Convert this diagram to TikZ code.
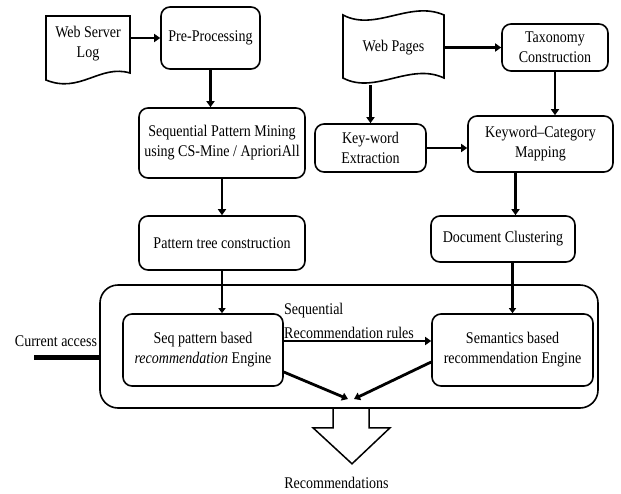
\documentclass[tikz,border=0pt]{standalone}
\usepackage{fontspec}
\setmainfont{Liberation Serif}[FakeStretch=0.86]
\usepackage{tikz}
\usetikzlibrary{shapes,arrows,arrows.meta,positioning}
\tikzset{box/.style={draw,line width=1.6pt,rounded corners=9pt,align=center,inner sep=2pt}}
\tikzset{flow/.style={draw,line width=2.8pt,-{Triangle[length=6pt,width=8pt]}}}
\tikzset{feed/.style={draw,line width=2.2pt,-{Triangle[length=5pt,width=7pt]}}}
\tikzset{paper/.style={draw,line width=1.6pt}}
\tikzset{hollow/.style={draw,line width=1.5pt,line join=miter}}
\tikzset{lbl/.style={inner sep=0pt,align=left}}

\begin{document}
\begin{tikzpicture}[x=1pt,y=-1pt,font=\fontsize{16.3}{20}\selectfont]
    \useasboundingbox (0,0) rectangle (621,493);

    \node[lbl,align=center,minimum width=84pt] (log) at (88,44) {Web Server\\Log};
    \draw[paper] (46,16) -- (130,16) -- (130,73) .. controls (100,64) and (80,94) .. (46,80) -- cycle;
    \node[box,minimum width=99pt,minimum height=62pt] (pre) at (210.5,38) {Pre-Processing};
    \node[box,minimum width=166pt,minimum height=70pt] (mine) at (222,143) {Sequential Pattern Mining\\using CS-Mine / AprioriAll};
    \node[box,below of=mine,node distance=100pt,minimum width=166pt,minimum height=54pt] (tree) {Pattern tree construction};

    \node[lbl,align=center,minimum width=101pt,minimum height=65pt] (pages) at (393.5,47.5) {Web Pages};
    \draw[paper] (343,15) .. controls (375,32) and (410,0) .. (444,15) -- (444,78) .. controls (410,62) and (375,95) .. (343,78) -- cycle;
    \node[box,minimum width=106pt,minimum height=47pt] (tax) at (555,47.5) {Taxonomy\\Construction};
    \node[box,minimum width=111pt,minimum height=48pt] (kext) at (370.5,148) {Key-word\\Extraction};
    \node[box,minimum width=145pt,minimum height=56pt] (kmap) at (540.5,144) {Keyword--Category\\Mapping};
    \node[box,minimum width=144pt,minimum height=46pt] (clus) at (503,239) {Document Clustering};

    \node[box,rounded corners=18pt,minimum width=498pt,minimum height=123pt] (cont) at (349,346.5) {};
    \node[box,minimum width=160pt,minimum height=72pt] (seqeng) at (203,350) {Seq pattern based\\\textit{recommendation} Engine};
    \node[box,minimum width=161pt,minimum height=72pt] (semeng) at (512.5,350) {Semantics based\\recommendation Engine};
    \node[lbl,anchor=south west,font=\fontsize{16.3}{24}\selectfont] (rules) at (284,339) {Sequential\\Recommendation rules};
    \node[lbl] (acc) at (56,341) {Current access};
    \node[lbl] (rec) at (336.5,483) {Recommendations};
    \coordinate (access) at (34,357);
    \coordinate (merge) at (351,399);
    \coordinate (out) at ([xshift=2pt]cont.south);

        \path[flow] (log.east |- pre.west) -- (pre.west);
        \path[flow] (pre.south) -- (pre.south |- mine.north);
        \path[flow] (mine) -- (tree);
        \path[feed] (tree.south) -- (tree.south |- seqeng.north);
        \path[flow] (pages.east) -- (tax.west);
        \path[flow] (kext.north |- pages.south) ++(0,5) -- (kext.north);
        \path[flow] (tax.south) -- (tax.south |- kmap.north);
        \path[flow] (kext.east) -- (kext.east -| kmap.west);
        \path[flow] ([xshift=-25pt]kmap.south) -- ([xshift=-25pt]kmap.south |- clus.north);
        \path[feed] (semeng.north |- clus.south) -- (semeng.north);
        \path[flow] ([yshift=9pt]seqeng.east) -- ([yshift=9pt]semeng.west);
        \path[flow] ([yshift=-22pt]seqeng.east) -- ([xshift=-3pt]merge);
        \path[flow] ([yshift=-12pt]semeng.west) -- ([xshift=3pt]merge);
        \path[draw,line width=5pt] (access) -- (access -| cont.west);
        \path[hollow] (out) ++(-18,0) -- ++(0,19) -- ++(-20,0) -- ++(39,36) -- ++(38,-36) -- ++(-21,0) -- ++(0,-19);
  \end{tikzpicture}
\end{document}
